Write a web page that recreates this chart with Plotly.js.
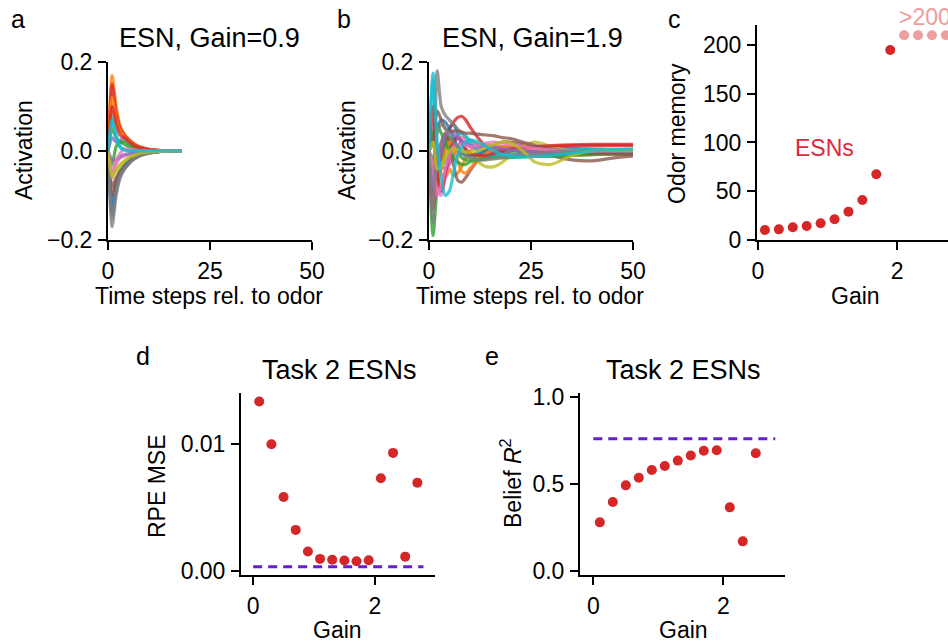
<!DOCTYPE html>
<html>
<head>
<meta charset="utf-8">
<script src="https://cdn.plot.ly/plotly-3.0.1.min.js"></script>
<style>html,body{margin:0;padding:0;background:#fff}#plot{width:948px;height:644px}</style>
</head>
<body>
<div id="plot"></div>
<script>
// ---------- Panel a: ESN, Gain=0.9 (time steps 0..18) ----------
const timeA = [0,1,2,3,4,5,6,7,8,9,10,11,12,13,14,15,16,17,18];
const actA = [
  [0,-0.12,-0.07,-0.045,-0.03,-0.02,-0.013,-0.009,-0.006,-0.004,-0.003,-0.002,-0.001,-0.001,0,0,0,0,0],
  [0,0.17,0.10,0.055,0.038,0.027,0.019,0.013,0.009,0.006,0.004,0.003,0.002,0.001,0.001,0,0,0,0],
  [0,0.05,0.03,0.02,0.022,0.016,0.011,0.008,0.005,0.004,0.002,0.002,0.001,0.001,0,0,0,0,0],
  [0,0.15,0.085,0.05,0.036,0.026,0.018,0.012,0.008,0.006,0.004,0.003,0.002,0.001,0.001,0,0,0,0],
  [0,0.03,0.02,0.025,0.03,0.022,0.015,0.01,0.007,0.005,0.003,0.002,0.001,0.001,0,0,0,0,0],
  [0,-0.08,-0.06,-0.045,-0.035,-0.025,-0.017,-0.012,-0.008,-0.006,-0.004,-0.003,-0.002,-0.001,-0.001,0,0,0,0],
  [0,-0.06,-0.03,-0.015,-0.012,-0.009,-0.006,-0.004,-0.003,-0.002,-0.001,-0.001,0,0,0,0,0,0,0],
  [0,-0.17,-0.10,-0.06,-0.042,-0.03,-0.021,-0.015,-0.01,-0.007,-0.005,-0.003,-0.002,-0.001,-0.001,0,0,0,0],
  [0,-0.05,-0.045,-0.035,-0.025,-0.018,-0.012,-0.008,-0.006,-0.004,-0.003,-0.002,-0.001,-0.001,0,0,0,0,0],
  [0,0.075,0.03,0.01,0.003,0.001,0,0,0,0,0,0,0,0,0,0,0,0,0],
  [0,-0.14,-0.08,-0.05,-0.035,-0.025,-0.017,-0.012,-0.008,-0.006,-0.004,-0.003,-0.002,-0.001,-0.001,0,0,0,0],
  [0,0.12,0.07,0.045,0.033,0.024,0.016,0.011,0.008,0.005,0.004,0.002,0.002,0.001,0.001,0,0,0,0],
  [0,-0.03,0.01,0.02,0.015,0.01,0.007,0.005,0.003,0.002,0.001,0.001,0,0,0,0,0,0,0],
  [0,0.10,0.06,0.035,0.03,0.022,0.015,0.01,0.007,0.005,0.003,0.002,0.001,0.001,0,0,0,0,0],
  [0,-0.02,-0.02,-0.012,-0.008,-0.006,-0.004,-0.003,-0.002,-0.001,-0.001,0,0,0,0,0,0,0,0],
  [0,-0.10,-0.07,-0.05,-0.038,-0.027,-0.019,-0.013,-0.009,-0.006,-0.004,-0.003,-0.002,-0.001,-0.001,0,0,0,0],
  [0,-0.045,-0.02,-0.005,0.005,0.004,0.003,0.002,0.001,0.001,0,0,0,0,0,0,0,0,0],
  [0,-0.15,-0.09,-0.055,-0.04,-0.029,-0.02,-0.014,-0.01,-0.007,-0.005,-0.003,-0.002,-0.001,-0.001,0,0,0,0],
  [0,-0.06,-0.04,-0.03,-0.022,-0.016,-0.011,-0.008,-0.005,-0.004,-0.002,-0.002,-0.001,-0.001,0,0,0,0,0],
  [0,0.07,0.035,0.008,0.002,0,0,0,0,0,0,0,0,0,0,0,0,0,0]
];

// ---------- Panel b: ESN, Gain=1.9 (time steps 0..50) ----------
const timeB = [0,1,2,3,4,5,6,7,8,9,10,12,14,16,18,20,23,26,30,35,40,45,50];
const actB = [
  [0,-0.10,-0.06,-0.02,0.02,0.05,0.06,0.04,0.02,0.0,-0.01,-0.02,-0.015,-0.01,-0.005,0.0,0.005,0.008,0.008,0.006,0.004,0.003,0.002],
  [0,0.05,-0.02,-0.05,-0.06,-0.04,-0.055,-0.05,-0.035,-0.015,0.0,0.01,0.015,0.01,0.005,0.0,-0.005,-0.008,-0.01,-0.01,-0.008,-0.006,-0.005],
  [0,-0.19,-0.08,-0.03,0.01,0.03,0.02,0.0,-0.015,-0.02,-0.02,-0.01,0.0,0.005,0.01,0.01,0.008,0.004,0.0,-0.004,-0.006,-0.006,-0.006],
  [0,-0.13,-0.06,0.0,0.03,0.05,0.065,0.075,0.078,0.07,0.055,0.03,0.01,0.0,-0.005,-0.005,0.0,0.005,0.01,0.012,0.012,0.012,0.012],
  [0,0.03,0.0,-0.03,-0.04,-0.03,-0.01,0.01,0.02,0.02,0.015,0.005,0.0,-0.005,-0.008,-0.01,-0.01,-0.008,-0.005,-0.002,0.0,0.0,0.0],
  [0,-0.06,-0.02,0.02,0.04,0.02,-0.03,-0.065,-0.07,-0.06,-0.045,-0.02,0.0,0.015,0.02,0.02,0.015,0.005,-0.01,-0.02,-0.022,-0.016,-0.011],
  [0,0.06,-0.08,-0.10,-0.06,-0.02,0.01,0.03,0.03,0.02,0.01,0.005,0.01,0.012,0.01,0.008,0.005,0.003,0.0,0.0,0.0,0.0,0.0],
  [0,-0.08,0.18,0.10,0.08,0.07,0.06,0.05,0.04,0.03,0.025,0.015,0.01,0.005,0.0,-0.005,-0.01,-0.01,-0.01,-0.008,-0.006,-0.005,-0.004],
  [0,0.02,-0.03,-0.035,-0.02,-0.01,0.0,0.005,0.0,-0.005,-0.012,-0.025,-0.035,-0.035,-0.025,-0.01,0.01,0.02,0.01,0.0,-0.003,-0.002,0.0],
  [0,0.175,0.0,-0.035,-0.02,0.0,0.02,0.035,0.04,0.035,0.02,0.0,-0.01,-0.01,-0.01,-0.008,-0.005,-0.003,0.0,0.002,0.003,0.003,0.003],
  [0,-0.02,0.05,0.07,0.065,0.05,0.03,0.01,-0.005,-0.01,-0.01,-0.005,0.0,0.005,0.005,0.003,0.0,-0.002,-0.004,-0.004,-0.003,-0.002,-0.002],
  [0,-0.03,-0.07,-0.04,0.0,0.02,0.01,-0.02,-0.045,-0.05,-0.04,-0.02,-0.005,0.005,0.01,0.01,0.008,0.005,0.002,0.0,0.0,0.0,0.0],
  [0,0.04,0.06,0.04,0.02,0.0,-0.015,-0.025,-0.03,-0.03,-0.025,-0.02,-0.018,-0.015,-0.015,-0.015,-0.013,-0.012,-0.012,-0.01,-0.008,-0.006,-0.005],
  [0,0.10,-0.05,-0.09,-0.05,-0.01,0.02,0.03,0.02,0.005,-0.005,-0.01,-0.01,-0.005,0.0,0.005,0.008,0.01,0.012,0.014,0.015,0.015,0.015],
  [0,-0.08,-0.04,0.0,0.035,0.045,0.04,0.03,0.02,0.015,0.012,0.01,0.01,0.008,0.005,0.003,0.0,-0.002,-0.003,-0.003,-0.002,-0.001,0.0],
  [0,0.02,0.09,0.07,0.05,0.045,0.045,0.045,0.043,0.04,0.04,0.038,0.036,0.034,0.03,0.028,0.02,0.012,0.005,-0.002,-0.005,-0.007,-0.008],
  [0,-0.04,-0.10,-0.08,-0.04,-0.01,0.01,0.015,0.015,0.012,0.01,0.012,0.018,0.02,0.018,0.015,0.01,0.006,0.003,0.001,0.0,0.0,0.0],
  [0,-0.16,0.04,0.06,0.05,0.035,0.02,0.01,0.0,-0.01,-0.015,-0.02,-0.02,-0.018,-0.015,-0.012,-0.008,-0.005,-0.002,0.0,0.001,0.001,0.001],
  [0,0.02,-0.04,-0.035,-0.015,0.0,0.005,0.003,0.0,-0.002,-0.003,0.0,0.008,0.015,0.02,0.018,0.0,-0.025,-0.03,-0.01,0.0,0.002,0.002],
  [0,0.16,0.02,-0.06,-0.10,-0.09,-0.05,-0.01,0.01,0.02,0.025,0.02,0.01,0.0,-0.008,-0.012,-0.013,-0.012,-0.01,-0.005,0.0,0.003,0.004]
];

// ---------- Panel c: Odor memory vs gain ----------
const gainC = [0.1,0.3,0.5,0.7,0.9,1.1,1.3,1.5,1.7,1.9];
const memoryC = [10.3,10.9,13,14.4,17.1,21.2,29.1,41,67.4,194.9];
const gainOver = [2.1,2.3,2.5,2.7];
const memoryOver = [210,210,210,210];

// ---------- Panel d: RPE MSE ----------
const gainD = [0.1,0.3,0.5,0.7,0.9,1.1,1.3,1.5,1.7,1.9,2.1,2.3,2.5,2.7];
const mseD = [0.01337,0.0100,0.00584,0.00324,0.00153,0.00095,0.00089,0.00082,0.00076,0.00084,0.00732,0.00932,0.00113,0.00697];
const mseRef = [0.00034,0.00034];
const refGainD = [0,2.8];

// ---------- Panel e: Belief R^2 ----------
const gainE = [0.1,0.3,0.5,0.7,0.9,1.1,1.3,1.5,1.7,1.9,2.1,2.3,2.5];
const r2E = [0.279,0.396,0.491,0.535,0.579,0.602,0.633,0.662,0.690,0.692,0.365,0.170,0.675];
const r2Ref = [0.759,0.759];
const refGainE = [0,2.8];

const palette = ['#1f77b4','#ff7f0e','#2ca02c','#d62728','#9467bd','#8c564b','#e377c2','#7f7f7f','#bcbd22','#17becf'];
const RED = '#d62728';
const PURPLE = '#6a1bd6';

const W = 948, H = 644;
const px = v => v / W;
const py = v => 1 - v / H;

const traces = [];
actA.forEach((row, i) => traces.push({
  x: timeA, y: row, xaxis: 'x', yaxis: 'y', mode: 'lines', type: 'scatter',
  line: {color: palette[i % 10], width: 3.2, shape: 'spline', smoothing: 0.6}, opacity: 0.8,
  hoverinfo: 'skip', showlegend: false
}));
actB.forEach((row, i) => traces.push({
  x: timeB, y: row, xaxis: 'x2', yaxis: 'y2', mode: 'lines', type: 'scatter',
  line: {color: palette[i % 10], width: 3.2, shape: 'spline', smoothing: 0.8}, opacity: 0.8,
  hoverinfo: 'skip', showlegend: false
}));
traces.push({x: gainC, y: memoryC, xaxis: 'x3', yaxis: 'y3', mode: 'markers', type: 'scatter',
  marker: {color: RED, size: 10}, showlegend: false, cliponaxis: false});
traces.push({x: gainOver, y: memoryOver, xaxis: 'x3', yaxis: 'y3', mode: 'markers', type: 'scatter',
  marker: {color: 'rgba(214,39,40,0.45)', size: 10}, showlegend: false, cliponaxis: false});
traces.push({x: refGainD, y: mseRef, xaxis: 'x4', yaxis: 'y4', mode: 'lines', type: 'scatter',
  line: {color: PURPLE, width: 3, dash: '9px,6px'}, showlegend: false});
traces.push({x: gainD, y: mseD, xaxis: 'x4', yaxis: 'y4', mode: 'markers', type: 'scatter',
  marker: {color: RED, size: 10}, showlegend: false, cliponaxis: false});
traces.push({x: refGainE, y: r2Ref, xaxis: 'x5', yaxis: 'y5', mode: 'lines', type: 'scatter',
  line: {color: PURPLE, width: 3, dash: '9px,6px'}, showlegend: false});
traces.push({x: gainE, y: r2E, xaxis: 'x5', yaxis: 'y5', mode: 'markers', type: 'scatter',
  marker: {color: RED, size: 10}, showlegend: false, cliponaxis: false});

const FONT = 'Liberation Sans, Arial, Helvetica, sans-serif';
const tickFont = {family: FONT, size: 23, color: '#000'};
function ax(domain, range, tickvals, ticktext, anchor) {
  return {
    domain: domain, range: range, tickvals: tickvals, ticktext: ticktext, tickmode: 'array',
    showgrid: false, zeroline: false, showline: true, linecolor: '#000', linewidth: 2,
    ticks: 'outside', ticklen: 8, tickwidth: 2, tickcolor: '#000', tickfont: tickFont,
    anchor: anchor, fixedrange: true, ticklabelstandoff: 1
  };
}

const layout = {
  width: W, height: H, margin: {l: 0, r: 0, t: 0, b: 0},
  paper_bgcolor: '#fff', plot_bgcolor: 'rgba(0,0,0,0)', showlegend: false,
  font: {family: FONT, color: '#000'},
  xaxis:  ax([px(108), px(312)], [0, 50], [0,25,50], ['0','25','50'], 'y'),
  yaxis:  ax([py(240), py(62)], [-0.2, 0.2], [-0.2,0,0.2], ['\u22120.2','0.0','0.2'], 'x'),
  xaxis2: ax([px(429), px(633)], [0, 50], [0,25,50], ['0','25','50'], 'y2'),
  yaxis2: ax([py(240), py(62)], [-0.2, 0.2], [-0.2,0,0.2], ['\u22120.2','0.0','0.2'], 'x2'),
  xaxis3: ax([px(757), 1], [-0.014, 2.73], [0,2], ['0','2'], 'y3'),
  yaxis3: ax([py(240), py(25)], [0, 220.5], [0,50,100,150,200], ['0','50','100','150','200'], 'x3'),
  xaxis4: ax([px(241), px(435)], [-0.2, 2.99], [0,2], ['0','2'], 'y4'),
  yaxis4: ax([py(575), py(392.7)], [-0.00032, 0.01407], [0,0.01], ['0.00','0.01'], 'x4'),
  xaxis5: ax([px(580), px(785)], [-0.205, 2.95], [0,2], ['0','2'], 'y5'),
  yaxis5: ax([py(575), py(393.3)], [-0.023, 1.019], [0,0.5,1], ['0.0','0.5','1.0'], 'x5'),
  annotations: []
};

function note(text, x, y, size, opts) {
  layout.annotations.push(Object.assign({
    text: text, xref: 'paper', yref: 'paper', x: px(x), y: py(y),
    xanchor: 'center', yanchor: 'middle', showarrow: false,
    font: {family: FONT, size: size, color: '#000'}
  }, opts || {}));
}
// panel letters
note('a', 18, 19, 25);
note('b', 344, 19, 25);
note('c', 674, 19, 25);
note('d', 143, 356, 25);
note('e', 492, 356, 25);
// titles
note('ESN, Gain=0.9', 209, 38, 27);
note('ESN, Gain=1.9', 532, 38, 27);
note('Task 2 ESNs', 339, 370, 27);
note('Task 2 ESNs', 683, 370, 27);
// axis titles
note('Time steps rel. to odor', 209, 296, 23);
note('Time steps rel. to odor', 530, 296, 23);
note('Gain', 855, 296, 23);
note('Gain', 337, 630, 23);
note('Gain', 683, 630, 23);
note('Activation', 24, 150, 23, {textangle: -90});
note('Activation', 347, 150, 23, {textangle: -90});
note('Odor memory', 677, 134, 23, {textangle: -90});
note('RPE MSE', 157, 486, 23, {textangle: -90});
note('Belief <i>R</i><sup>2</sup>', 511, 483, 23, {textangle: -90});
// in-plot labels
note('ESNs', 824, 148, 23, {font: {family: FONT, size: 23, color: '#e0283a'}});
note('>200', 897, 17, 23, {xanchor: 'left', font: {family: FONT, size: 23, color: '#f09a9a'}});

Plotly.newPlot('plot', traces, layout, {staticPlot: true, displayModeBar: false});
</script>
</body>
</html>
